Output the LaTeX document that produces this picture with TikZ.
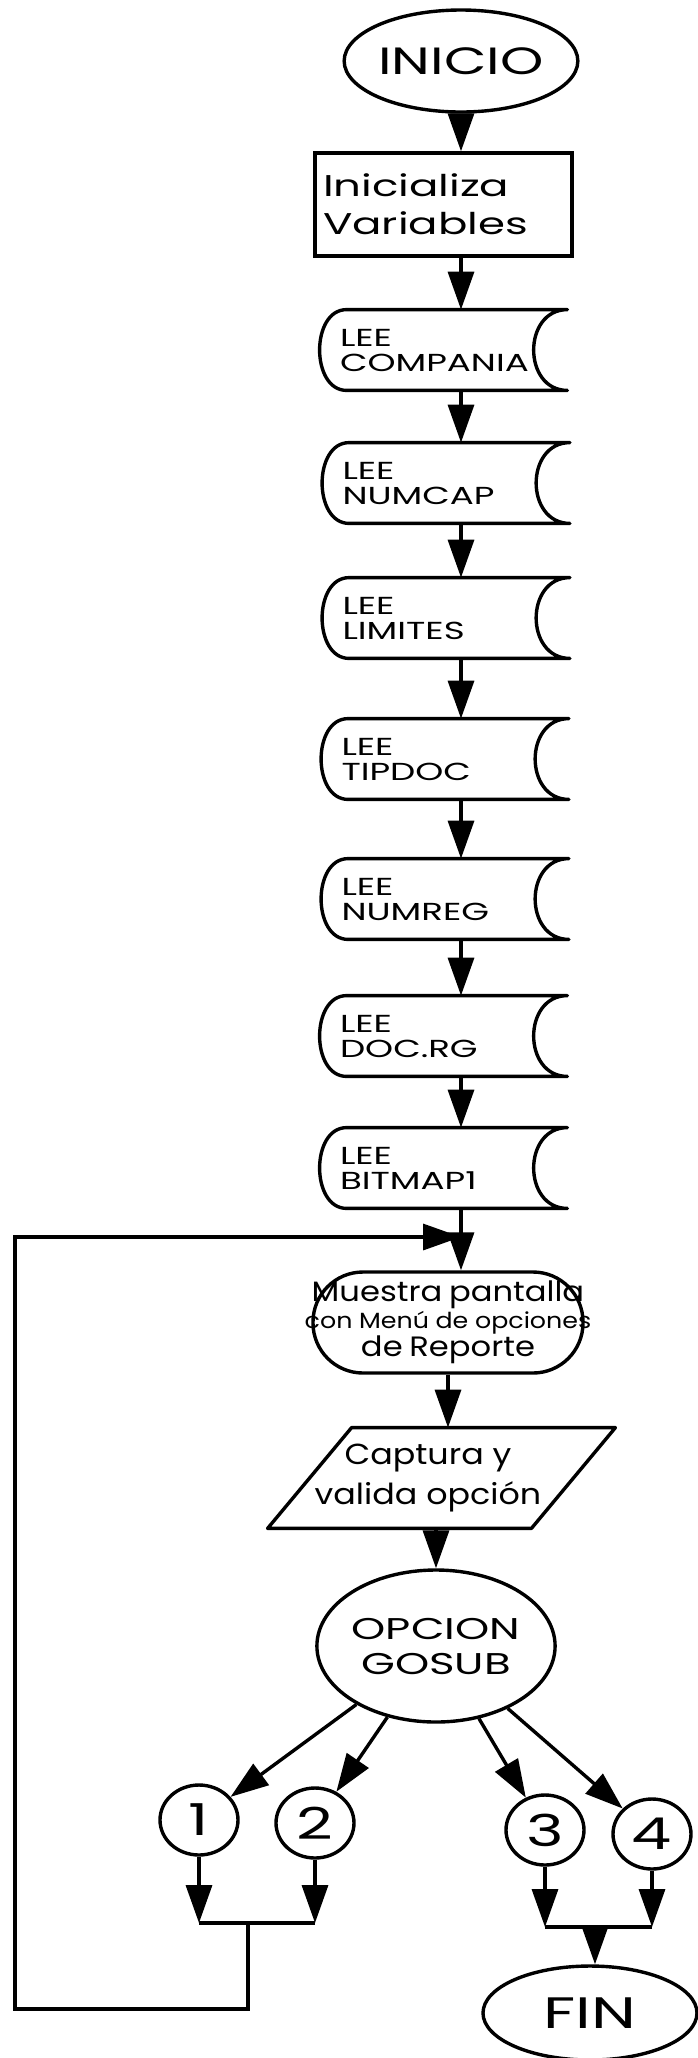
\documentclass[tikz,border=0pt]{standalone}
\usepackage{fontspec}
\setmainfont{Poppins}[FakeStretch=1.45]
\newfontfamily\angosta{Poppins}[FakeStretch=1.15]
\usepackage{tikz}
\usetikzlibrary{arrows.meta,calc,shapes.geometric}
\tikzset{
  linea/.style={draw=black, line width=1.7pt},
  flow/.style={linea, -{Triangle[length=19pt,width=13pt]}},
  terminal/.style={linea, ellipse, inner sep=0pt},
  % lectura de archivo (el contorno se dibuja aparte)
  lee/.style={draw=none, minimum width=123.5pt, minimum height=40pt, inner sep=2pt,
    text width=103.5pt, align=left, font=\fontsize{12.3}{12.5}\selectfont},
  conector/.style={linea, ellipse, minimum width=39pt, minimum height=35pt,
    inner sep=0pt, font=\fontsize{22}{22}\selectfont}
}

\begin{document}
\begin{tikzpicture}[x=0.5pt, y=-0.5pt,
    proceso/.style={linea, minimum width=128.5pt, minimum height=51.5pt,
      text width=120.5pt, inner xsep=4pt, align=left, font=\fontsize{15}{19}\selectfont},
    pantalla/.style={linea, rounded corners=25pt, text width=150pt, inner xsep=-7.5pt,
      minimum height=50.5pt, align=center, font=\angosta},
    entrada/.style={draw=none, minimum width=131.5pt, minimum height=50pt, align=center,
      inner sep=1pt, font=\angosta\fontsize{14.5}{20}\selectfont}]
    \useasboundingbox[fill=white] (0,0) rectangle (697,2058);
    \coordinate (eje) at (461,0);

    \node[terminal, minimum width=108pt, minimum height=51pt,
      font=\fontsize{19}{19}\selectfont] (inicio) at (461,61) {INICIO};
    \node[proceso] (caja) at (443.5,204.5) {Inicializa\\Variables};

    \node[lee] (compania) at (443.5,350) {LEE\\COMPANIA};
    \node[lee] (numcap) at (446,483) {LEE\\NUMCAP};
    \node[lee] (limites) at (446,618) {LEE\\LIMITES};
    \node[lee] (tipdoc) at (445,759) {LEE\\TIPDOC};
    \node[lee] (numreg) at (445,899) {LEE\\NUMREG};
    \node[lee] (docrg) at (443.5,1036) {LEE\\DOC.RG};
    \node[lee] (bitmap) at (443.5,1168) {LEE\\BITMAP1};

    \node[pantalla] (muestra) at (448,1322.5)
      {{\fontsize{14}{15}\selectfont Muestra pantalla}\\
       {\fontsize{11}{14}\selectfont con Menú de opciones}\\
       {\fontsize{14}{14}\selectfont de Reporte}};
    \node[entrada] (captura) at (428,1478) {Captura y\\valida opción};
    \node[terminal, minimum width=108pt, minimum height=76pt,
      font=\fontsize{15}{17.5}\selectfont, align=center] (opcion) at (436,1646) {OPCION\\GOSUB};

    \node[conector] (n1) at (199,1820) {1};
    \node[conector] (n2) at (315,1823) {2};
    \node[conector] (n3) at (545,1830) {3};
    \node[conector] (n4) at (652,1834) {4};
    \node[terminal, minimum width=107pt, minimum height=47pt,
      font=\fontsize{22}{22}\selectfont] (fin) at (590,2013) {FIN};

    \coordinate (j12) at (248,1923);
    \coordinate (j34) at (595,1927);
    \coordinate (esq) at (15,2009);
    \coordinate (regreso) at (461,1237);

    % contorno de las lecturas
    \foreach \n in {compania,numcap,limites,tipdoc,numreg,docrg,bitmap}{
      \draw[linea, line join=round] ($(\n.north west)+(27,0)$) -- (\n.north east)
        .. controls +(-45,0) and +(-45,0) .. (\n.south east)
        -- ($(\n.south west)+(27,0)$)
        .. controls +(-36,0) and +(-36,0) .. ($(\n.north west)+(27,0)$) -- cycle;
    }
    % paralelogramo de captura
    \draw[linea, line join=round] ($(captura.north west)+(55.5,0)$) -- ($(captura.north east)+(55.5,0)$)
      -- ($(captura.south east)+(-28.5,0)$) -- ($(captura.south west)+(-28.5,0)$) -- cycle;

    \draw[flow] (inicio.south -| eje) -- (caja.north -| eje);
    \draw[flow] (caja.south -| eje) -- (compania.north -| eje);
    \draw[flow] (compania.south -| eje) -- (numcap.north -| eje);
    \draw[flow] (numcap.south -| eje) -- (limites.north -| eje);
    \draw[flow] (limites.south -| eje) -- (tipdoc.north -| eje);
    \draw[flow] (tipdoc.south -| eje) -- (numreg.north -| eje);
    \draw[flow] (numreg.south -| eje) -- (docrg.north -| eje);
    \draw[flow] (docrg.south -| eje) -- (bitmap.north -| eje);
    \draw[flow] (bitmap.south -| eje) -- (muestra.north -| eje);
    \draw[flow] (muestra.south) -- (muestra.south |- captura.north);
    \draw[flow] (captura.south -| opcion) -- (opcion.north);

    \draw[flow] (opcion) -- (n1);
    \draw[flow] (opcion) -- (n2);
    \draw[flow] (opcion) -- (n3);
    \draw[flow] (opcion) -- (n4);

    \draw[flow] (n1) -- (n1 |- j12);
    \draw[flow] (n2) -- (n2 |- j12);
    \draw[linea] (n1 |- j12) -- (n2 |- j12);
    \draw[flow] (j12) |- (esq) |- (regreso);

    \draw[flow] (n3) -- (n3 |- j34);
    \draw[flow] (n4) -- (n4 |- j34);
    \draw[linea] (n3 |- j34) -- (n4 |- j34);
    \draw[flow] (j34) -- (j34 |- fin.north);
\end{tikzpicture}
\end{document}
